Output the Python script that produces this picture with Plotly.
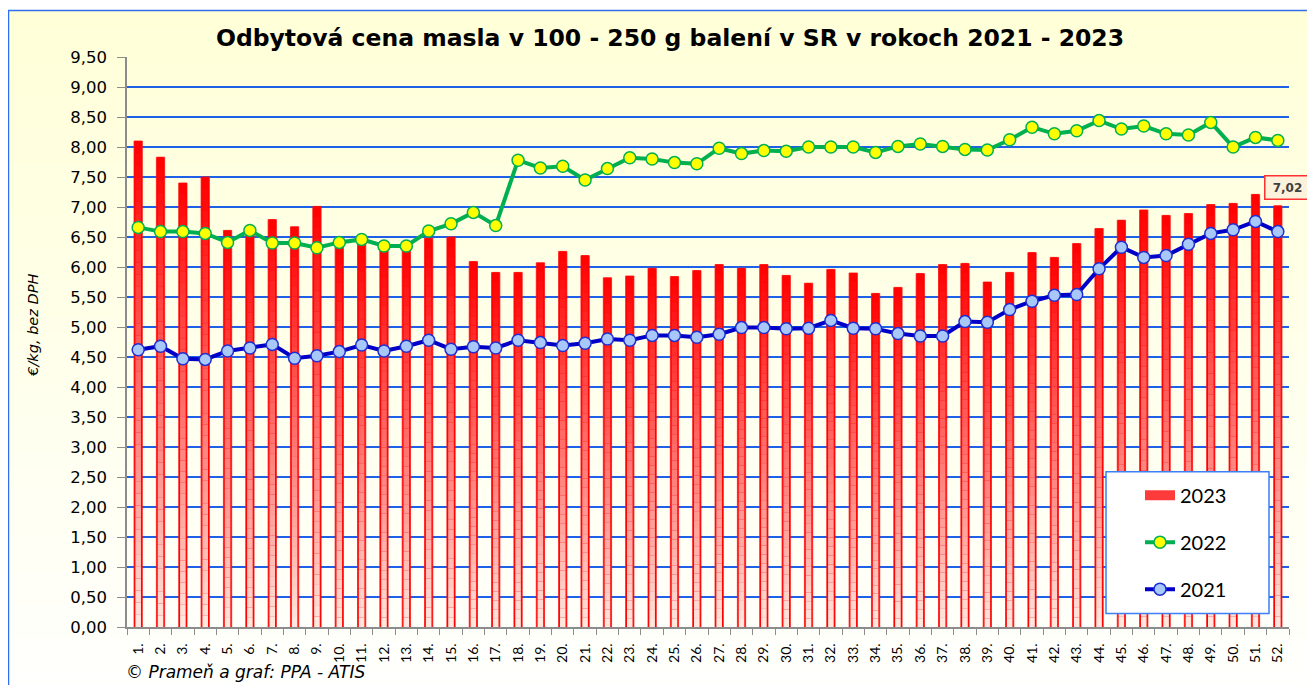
import plotly.graph_objects as go

# ---------------- data ----------------
weeks = [f"{i}." for i in range(1, 53)]

price_2023 = [8.10, 7.83, 7.40, 7.50, 6.61, 6.55, 6.79, 6.67, 7.01, 6.38,
              6.40, 6.30, 6.30, 6.48, 6.50, 6.09, 5.91, 5.91, 6.07, 6.26,
              6.19, 5.82, 5.85, 5.98, 5.84, 5.94, 6.04, 5.98, 6.04, 5.86,
              5.73, 5.96, 5.90, 5.56, 5.66, 5.89, 6.04, 6.06, 5.75, 5.91,
              6.24, 6.16, 6.39, 6.64, 6.78, 6.95, 6.86, 6.89, 7.04, 7.06,
              7.21, 7.02]

price_2022 = [6.66, 6.59, 6.59, 6.56, 6.41, 6.61, 6.40, 6.40, 6.32, 6.41,
              6.46, 6.35, 6.35, 6.60, 6.72, 6.91, 6.69, 7.78, 7.65, 7.68,
              7.45, 7.64, 7.82, 7.80, 7.74, 7.72, 7.98, 7.89, 7.94, 7.93,
              8.00, 8.00, 8.00, 7.91, 8.01, 8.05, 8.01, 7.96, 7.95, 8.12,
              8.33, 8.22, 8.27, 8.44, 8.30, 8.35, 8.22, 8.20, 8.41, 8.00,
              8.16, 8.11]

price_2021 = [4.62, 4.68, 4.47, 4.46, 4.60, 4.65, 4.71, 4.48, 4.52, 4.59,
              4.70, 4.60, 4.68, 4.78, 4.63, 4.67, 4.65, 4.78, 4.74, 4.69,
              4.73, 4.80, 4.78, 4.86, 4.86, 4.83, 4.88, 4.99, 4.99, 4.97,
              4.98, 5.11, 4.98, 4.97, 4.89, 4.85, 4.85, 5.09, 5.08, 5.29,
              5.43, 5.53, 5.54, 5.97, 6.33, 6.16, 6.19, 6.38, 6.56, 6.62,
              6.76, 6.59]

series_names = ["2023", "2022", "2021"]
title_text = "Odbytová cena masla v 100 - 250 g balení v SR v rokoch 2021 - 2023"
y_title = "€/kg, bez DPH"
source_text = "© Prameň a graf: PPA - ATIS"
last_label = "7,02"

# ---------------- geometry (screen px; page body adds an 8px offset) ----------------
OFF = 8
W, H = 1315 - OFF, 685 - OFF
P_LEFT, P_RIGHT, P_TOP, P_BOT = 127, 1289, 57, 627.5   # plot area on screen
ML = P_LEFT - OFF
MR = W - (P_RIGHT - OFF)
MT = P_TOP - OFF
MB = H - (P_BOT - OFF)
PW = P_RIGHT - P_LEFT
PH = P_BOT - P_TOP


def px_x(sx):
    return (sx - P_LEFT) / PW


def px_y(sy):
    return (P_BOT - sy) / PH


fig = go.Figure()

# main red bars (give red edge)
fig.add_trace(go.Bar(
    x=weeks, y=price_2023, name=series_names[0], width=0.37,
    marker=dict(color="#FF0000", line=dict(color="#FF1010", width=0.8)),
    legendgroup="a", showlegend=False, hoverinfo="skip"))

# gradient segments inside bars
N = 40
light = (255, 236, 226)
red = (255, 0, 0)
for k in range(N):
    t = (k + 0.5) / N
    f = t ** 0.9
    c = tuple(int(round(light[i] + (red[i] - light[i]) * f)) for i in range(3))
    fig.add_trace(go.Bar(
        x=weeks,
        y=[v / N for v in price_2023],
        base=[v * k / N for v in price_2023],
        width=0.25,
        marker=dict(color=f"rgb{c}", line=dict(width=0)),
        showlegend=False, hoverinfo="skip", legendgroup="a"))

# legend entry for the bars (wide red block like the original key)
fig.add_trace(go.Scatter(
    x=[weeks[0]], y=[None], name=series_names[0], mode="lines",
    line=dict(color="#FF3A3A", width=12), legendgroup="a", hoverinfo="skip"))

fig.add_trace(go.Scatter(
    x=weeks, y=price_2022, name=series_names[1], mode="lines+markers",
    line=dict(color="#00B050", width=4),
    marker=dict(size=12, color="#FFFF00", line=dict(color="#00B050", width=1.5)),
    legendgroup="b"))

fig.add_trace(go.Scatter(
    x=weeks, y=price_2021, name=series_names[2], mode="lines+markers",
    line=dict(color="#0000C8", width=4),
    marker=dict(size=12, color="#A9C8FA", line=dict(color="#1F2FD0", width=1.5)),
    legendgroup="c"))

# ---------------- background shapes ----------------
shapes = []
top_px, bot_px = 11, 690
NS = 40
c_top = (255, 255, 216)
c_bot = (255, 255, 253)
for i in range(NS):
    y0p = top_px + (bot_px - top_px) * i / NS
    y1p = top_px + (bot_px - top_px) * (i + 1) / NS
    t = i / (NS - 1)
    c = tuple(int(round(c_top[j] + (c_bot[j] - c_top[j]) * t)) for j in range(3))
    shapes.append(dict(type="rect", xref="paper", yref="paper",
                       x0=px_x(8.5), x1=px_x(1325), y0=px_y(y1p + 1), y1=px_y(y0p),
                       fillcolor=f"rgb{c}", line=dict(width=0), layer="below"))
shapes.append(dict(type="rect", xref="paper", yref="paper",
                   x0=px_x(8.5), x1=px_x(1330), y0=px_y(700), y1=px_y(10.5),
                   fillcolor="rgba(0,0,0,0)", line=dict(color="#2F6FF0", width=1.5),
                   layer="below"))
# legend box
shapes.append(dict(type="rect", xref="paper", yref="paper",
                   x0=px_x(1106), x1=px_x(1269), y0=px_y(614), y1=px_y(472),
                   fillcolor="white", line=dict(color="#3B80F5", width=1.5),
                   layer="above"))

annotations = [
    dict(text=y_title, textangle=-90, xref="paper", yref="paper",
         x=px_x(33), y=px_y(326), xanchor="center", yanchor="middle",
         showarrow=False,
         font=dict(family="DejaVu Sans", size=14.5, color="#000000", style="italic")),
    dict(text=source_text, xref="paper", yref="paper",
         x=px_x(124), y=px_y(673), xanchor="left", yanchor="middle",
         showarrow=False,
         font=dict(family="DejaVu Sans", size=17, color="#000000", style="italic")),
    dict(text=f"<b>{last_label}</b>", x=len(weeks) - 1, y=price_2023[-1],
         xref="x", yref="y", showarrow=False, xshift=10, yshift=18,
         bgcolor="#FCF1DA", bordercolor="#FF3030", borderwidth=1.5, borderpad=3,
         width=38, height=16,
         font=dict(family="DejaVu Sans", size=12, color="#404040")),
]

fig.update_layout(
    width=W, height=H,
    margin=dict(l=ML, r=MR, t=MT, b=MB, pad=0, autoexpand=False),
    paper_bgcolor="white", plot_bgcolor="rgba(0,0,0,0)",
    separators=", ",
    barmode="overlay",
    title=dict(text=f"<b>{title_text}</b>", x=(670 - OFF) / W, y=1 - (38 - OFF) / H,
               xref="container", yref="container", xanchor="center", yanchor="middle",
               font=dict(family="DejaVu Sans", size=23.5, color="#000000")),
    showlegend=True,
    legend=dict(x=px_x(1140), y=px_y(476), xanchor="left", yanchor="top",
                bgcolor="rgba(0,0,0,0)", borderwidth=0, tracegroupgap=18,
                font=dict(family="Lato", size=20, color="#000000"),
                traceorder="grouped"),
    shapes=shapes,
    annotations=annotations,
    font=dict(family="DejaVu Sans", color="#000000"),
)

fig.update_xaxes(
    type="category", range=[-0.5, len(weeks) - 0.5], autorange=False,
    showgrid=False, showline=True, linecolor="#8C8C8C", linewidth=1.5,
    ticks="outside", tickson="boundaries", ticklen=6, tickcolor="#8C8C8C",
    tickangle=-90, tickfont=dict(family="Lato", size=14, color="#000000"),
    ticklabelstandoff=9, zeroline=False, automargin=False)

fig.update_yaxes(
    range=[0, 9.5], autorange=False, tickmode="linear", tick0=0, dtick=0.5,
    tickformat=".2f",
    showgrid=True, gridcolor="#1F60E8", gridwidth=1.5,
    showline=True, linecolor="#8C8C8C", linewidth=1.5,
    ticks="outside", ticklen=8, tickcolor="#8C8C8C",
    tickfont=dict(family="DejaVu Sans", size=16.5, color="#000000"),
    ticklabelstandoff=7, zeroline=False, automargin=False)

fig.write_html("out.html")
